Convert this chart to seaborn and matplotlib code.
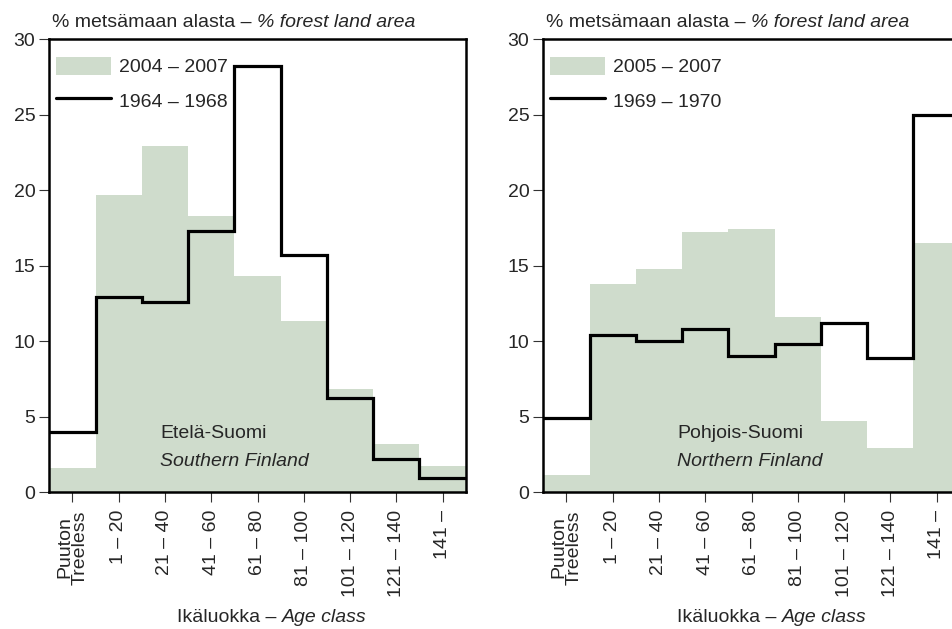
"""
Forest land area by age class - Southern and Northern Finland
Green bars = recent inventory, black step line = 1960s inventory.
"""

import numpy as np
import pandas as pd
import matplotlib
matplotlib.use("Agg")
import matplotlib.pyplot as plt
import seaborn as sns

sns.set_theme(style="white")
plt.rcParams["font.family"] = ["Liberation Sans", "DejaVu Sans"]

# ============================================================
# DATA
# ============================================================
age_classes = ["Puuton\nTreeless", "1 – 20", "21 – 40", "41 – 60", "61 – 80",
               "81 – 100", "101 – 120", "121 – 140", "141 –"]

south_recent = [1.6, 19.7, 22.9, 18.3, 14.3, 11.3, 6.8, 3.2, 1.7]
south_old = [4.0, 12.9, 12.6, 17.3, 28.2, 15.7, 6.2, 2.2, 0.9]

north_recent = [1.1, 13.8, 14.8, 17.2, 17.4, 11.6, 4.7, 2.9, 16.5]
north_old = [4.9, 10.4, 10.0, 10.8, 9.0, 9.8, 11.2, 8.9, 25.0]

south_labels = ("2004 – 2007", "1964 – 1968")
north_labels = ("2005 – 2007", "1969 – 1970")

GREEN = "#cfdccc"
FS = 14

fig = plt.figure(figsize=(9.52, 6.29), dpi=100)
ax_s = fig.add_axes([0.0518, 0.2178, 0.4374, 0.7197])
ax_n = fig.add_axes([0.5707, 0.2178, 0.4374, 0.7197])


def draw_panel(ax, recent, old, labels, region_fi, region_en, text_x, xlabel_x):
    df = pd.DataFrame({"Age": age_classes, "Share": recent})
    sns.barplot(data=df, x="Age", y="Share", color=GREEN, saturation=1,
                width=1.0, linewidth=0, ax=ax, label=labels[0])
    edges = np.arange(len(age_classes) + 1) - 0.5
    ax.stairs(old, edges, baseline=None, color="black", linewidth=2.3,
              label=labels[1], zorder=3)

    ax.set_xlim(-0.5, len(age_classes) - 0.5)
    ax.set_ylim(0, 30)
    ax.set_yticks([0, 5, 10, 15, 20, 25, 30])
    ax.set_xticks(range(len(age_classes)))
    ax.set_xticklabels(age_classes, rotation=90, fontsize=FS, linespacing=0.9)
    ax.tick_params(axis="y", labelsize=FS, length=7, width=0.8, color="#333333",
                   left=True, direction="out", pad=3)
    ax.tick_params(axis="x", length=7, width=0.8, color="#333333",
                   bottom=True, direction="out", pad=6)
    ax.set_xlabel("")
    ax.set_ylabel("")
    for sp in ax.spines.values():
        sp.set_color("black")
        sp.set_linewidth(1.8)
        sp.set_visible(True)

    # title above the axes: normal + italic parts
    t1 = ax.text(0.007, 1.027, "% metsämaan alasta – ", transform=ax.transAxes,
                 fontsize=FS, va="baseline", ha="left")
    ax.annotate("% forest land area", xy=(1, 0), xycoords=t1, fontsize=FS,
                va="bottom", ha="left", style="italic")

    # x label below the tick labels
    x1 = ax.text(xlabel_x, -0.288, "Ikäluokka – ", transform=ax.transAxes,
                 fontsize=FS, va="baseline", ha="right")
    ax.annotate("Age class", xy=(1, 0), xycoords=x1, fontsize=FS,
                va="bottom", ha="left", style="italic")

    # region name inside the plot
    ax.text(text_x, 3.6, region_fi, fontsize=FS, ha="left", va="baseline", zorder=4)
    ax.text(text_x, 1.75, region_en, fontsize=FS, ha="left", va="baseline",
            style="italic", zorder=4)

    handles, names = ax.get_legend_handles_labels()
    order = [names.index(labels[0]), names.index(labels[1])]
    ax.legend([handles[i] for i in order], [names[i] for i in order],
              loc="upper left", bbox_to_anchor=(0.016, 0.962), frameon=False,
              fontsize=FS, handlelength=2.85, handleheight=1.05, labelspacing=0.8,
              handletextpad=0.4, borderaxespad=0, borderpad=0)


draw_panel(ax_s, south_recent, south_old, south_labels,
           "Etelä-Suomi", "Southern Finland", 1.89, 0.559)
draw_panel(ax_n, north_recent, north_old, north_labels,
           "Pohjois-Suomi", "Northern Finland", 2.40, 0.572)

fig.savefig("out.png", dpi=100)
plt.close(fig)
